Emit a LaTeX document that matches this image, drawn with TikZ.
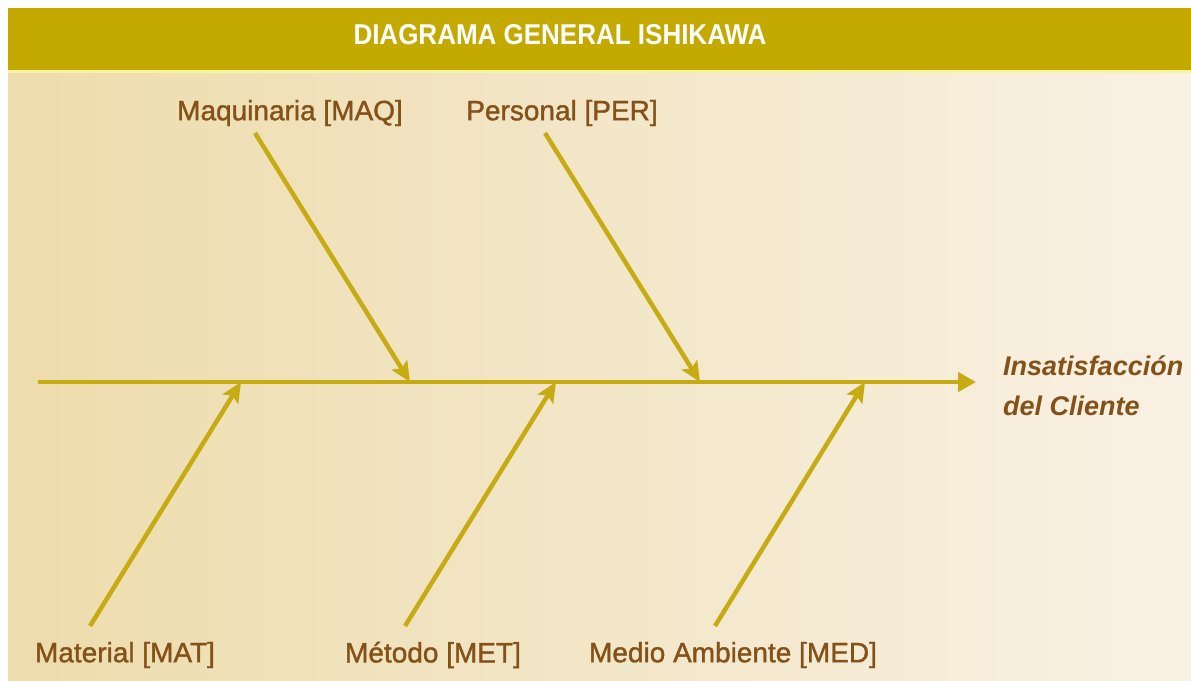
\documentclass[tikz,border=0pt]{standalone}
\usepackage{fontspec}
\setmainfont{Liberation Sans}
\newfontfamily\causefont[FakeBold=1.3]{Liberation Sans}
\usetikzlibrary{arrows.meta}
\definecolor{barcol}{RGB}{196,170,0}
\definecolor{linecol}{RGB}{198,172,18}
\definecolor{txtcol}{RGB}{132,82,24}
\definecolor{bgleft}{RGB}{237,220,172}
\definecolor{bgright}{RGB}{249,241,228}
\tikzset{
  cause/.style={font=\causefont\fontsize{28}{30}\selectfont, text=txtcol, inner sep=0pt},
  bone/.style={draw=linecol, line width=4.5pt, -{Stealth[length=20pt,width=18pt,inset=4pt]}},
  spine/.style={draw=linecol, line width=4.5pt, -{Triangle[length=18pt,width=19pt]}},
  effect/.style={font=\fontsize{27}{40}\selectfont\bfseries\itshape, text=txtcol, align=left, inner sep=0pt, anchor=north west}
}
\begin{document}
\begin{tikzpicture}[x=1pt,y=-1pt]
\useasboundingbox (0,0) rectangle (1191,680);
\fill[white] (0,0) rectangle (1191,680);
\shade[left color=bgleft, right color=bgright] (8,70) rectangle (1191,680);
\fill[barcol] (8,8) rectangle (1191,70);
\fill[bgleft!60!yellow!60!white] (8,70) rectangle (1191,73);
\node[text=white, inner sep=0pt] (title) at (560,35) {\resizebox{413pt}{20pt}{\fontsize{29}{30}\selectfont\bfseries DIAGRAMA GENERAL ISHIKAWA}};

\node[cause] (maq) at (290,113) {Maquinaria [MAQ]};
\node[cause] (per) at (562,113) {Personal [PER]};
\node[cause] (mat) at (125,655) {Material [MAT]};
\node[cause] (met) at (433,655) {Método [MET]};
\node[cause] (med) at (733,655) {Medio Ambiente [MED]};
\node[effect] (eff) at (1003,355) {Insatisfacción\\del Cliente};

\coordinate (s0) at (38,382);
\coordinate (s1) at (976,382);
\coordinate (hmaq) at (410,382);
\coordinate (hper) at (700,382);
\coordinate (hmat) at (241,382);
\coordinate (hmet) at (556,382);
\coordinate (hmed) at (865,382);
\coordinate (tmaq) at (255,133);
\coordinate (tper) at (545,133);
\coordinate (tmat) at (90,626);
\coordinate (tmet) at (405,626);
\coordinate (tmed) at (715,626);

\draw[spine] (s0) -- (s1);
\draw[bone] (tmaq) -- (hmaq);
\draw[bone] (tper) -- (hper);
\draw[bone] (tmat) -- (hmat);
\draw[bone] (tmet) -- (hmet);
\draw[bone] (tmed) -- (hmed);
\end{tikzpicture}
\end{document}
